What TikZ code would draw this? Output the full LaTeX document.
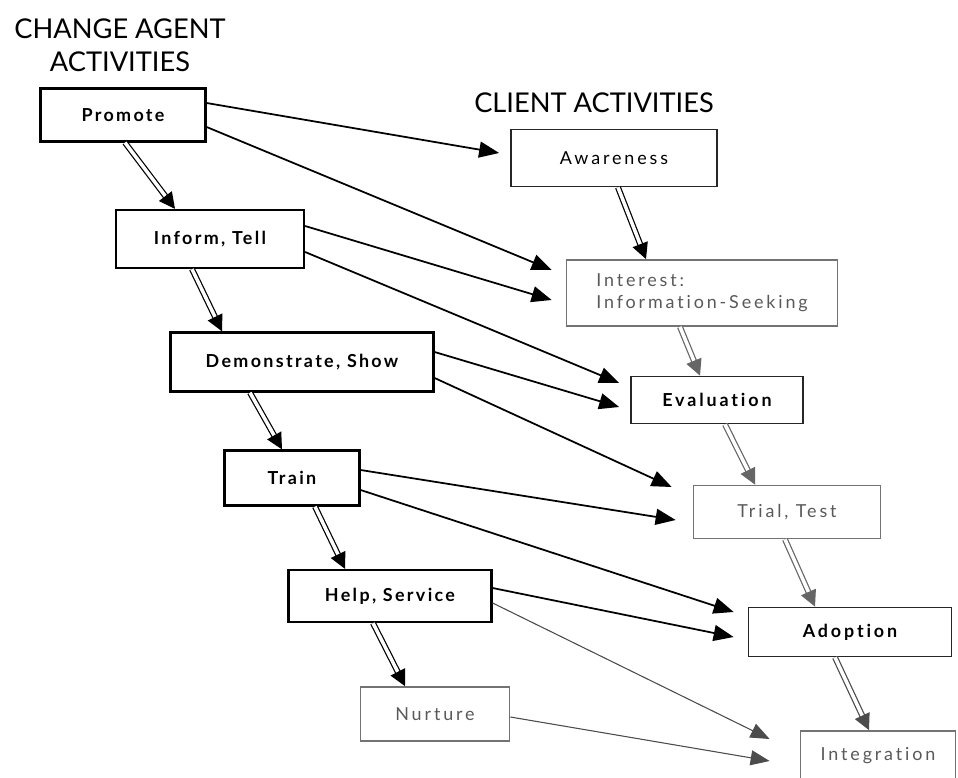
\documentclass[tikz,border=0pt]{standalone}
\usepackage{fontspec}
\setmainfont{Lato}
\newfontfamily\boxfont[LetterSpace=13, Ligatures=NoCommon]{Lato}
\newfontfamily\clientfont[LetterSpace=16, Ligatures=NoCommon]{Lato}
\usetikzlibrary{arrows.meta, positioning}
\tikzset{
    agent/.style = {rectangle, draw=black, line width=1.3pt, fill=white,
                    font=\boxfont\bfseries\fontsize{10.2}{12}\selectfont},
    client/.style = {rectangle, draw=black!85, line width=1pt, fill=white,
                     font=\clientfont\fontsize{10.2}{12.5}\selectfont},
    faint/.style = {draw=black!55, text=black!65},
    heading/.style = {font=\fontsize{15.5}{19}\selectfont, align=center},
    arrow/.style = {line width=1pt, -{Triangle[length=0.4cm,width=0.32cm]}},
    thinarrow/.style = {line width=0.6pt, draw=black!70, fill=black!70,
                        -{Triangle[length=0.38cm,width=0.3cm]}},
    dblarrow/.style = {double, double distance=2pt, line width=0.7pt,
                       -{Triangle[length=0.32cm,width=0.32cm]}},
}

\begin{document}
\begin{tikzpicture}[x=0.02cm, y=-0.02cm]
\useasboundingbox (0,0) rectangle (958,778);

\node (agenthead) [heading] at (120,45) {CHANGE AGENT\\ACTIVITIES};
\node (clienthead) [heading] at (594,103) {CLIENT ACTIVITIES};

% change agent side
\node (promote) [agent, minimum width=3.3cm, minimum height=1.06cm] at (123,115) {Promote};
\node (inform) [agent, minimum width=3.76cm, minimum height=1.16cm] at (210,239) {Inform, Tell};
\node (demo) [agent, minimum width=5.26cm, minimum height=1.18cm] at (302,362) {Demonstrate, Show};
\node (train) [agent, minimum width=2.7cm, minimum height=1.1cm] at (292,478) {Train};
\node (help) [agent, minimum width=4.06cm, minimum height=1.04cm] at (390,596) {Help, Service};
\node (nurture) [client, faint, minimum width=2.98cm, minimum height=1.08cm] at (435,714) {Nurture};

% client side
\node (aware) [client, minimum width=4.12cm, minimum height=1.14cm] at (614,158) {Awareness};
\node (interest) [client, faint, minimum width=5.42cm, minimum height=1.32cm,
                  align=left] at (702,293) {Interest:\\Information-Seeking};
\node (eval) [client, minimum width=3.44cm, minimum height=0.94cm] at (717,400) {\bfseries Evaluation};
\node (trial) [client, faint, minimum width=3.74cm, minimum height=1.06cm] at (787,512) {Trial, Test};
\node (adopt) [client, minimum width=4.06cm, minimum height=0.98cm] at (850,632) {\bfseries Adoption};
\node (integ) [client, faint, minimum width=3.1cm, minimum height=1.0cm] at (878,756) {Integration};

% Arrows
\draw[dblarrow] ([xshift=0.04cm]promote.south) -- ([xshift=-0.7cm]inform.north);
\draw[dblarrow] ([xshift=-0.36cm]inform.south) -- ([xshift=-1.6cm]demo.north);
\draw[dblarrow] ([xshift=-1.04cm]demo.south) -- ([xshift=-0.2cm]train.north);
\draw[dblarrow] ([xshift=0.46cm]train.south) -- ([xshift=-0.9cm]help.north);
\draw[dblarrow] ([xshift=-0.34cm]help.south) -- ([xshift=-0.6cm]nurture.north);
\draw[dblarrow] ([xshift=0.08cm]aware.south) -- ([xshift=-1.12cm]interest.north);
\draw[dblarrow, black!60] ([xshift=-0.44cm]interest.south) -- ([xshift=-0.34cm]eval.north);
\draw[dblarrow, black!60] ([xshift=0.16cm]eval.south) -- ([xshift=-0.64cm]trial.north);
\draw[dblarrow, black!60] ([xshift=-0.04cm]trial.south) -- ([xshift=-0.7cm]adopt.north);
\draw[dblarrow, black!70] ([xshift=-0.3cm]adopt.south) -- ([xshift=-0.18cm]integ.north);

\draw[arrow] ([yshift=0.24cm]promote.east) -- ([xshift=-0.22cm,yshift=0.1cm]aware.west);
\draw[arrow] ([yshift=-0.24cm]promote.east) -- ([xshift=-0.28cm,yshift=0.46cm]interest.west);
\draw[arrow] ([yshift=0.26cm]inform.east) -- ([xshift=-0.28cm,yshift=-0.14cm]interest.west);
\draw[arrow] ([yshift=-0.26cm]inform.east) -- ([xshift=-0.22cm,yshift=0.34cm]eval.west);
\draw[arrow] ([yshift=0.2cm]demo.east) -- ([xshift=-0.22cm,yshift=-0.14cm]eval.west);
\draw[arrow] ([yshift=-0.32cm]demo.east) -- ([xshift=-0.42cm,yshift=0.5cm]trial.west);
\draw[arrow] ([yshift=0.16cm]train.east) -- ([xshift=-0.34cm,yshift=-0.16cm]trial.west);
\draw[arrow] ([yshift=-0.24cm]train.east) -- ([xshift=-0.28cm,yshift=0.4cm]adopt.west);
\draw[arrow] ([yshift=0.16cm]help.east) -- ([xshift=-0.28cm,yshift=-0.1cm]adopt.west);
\draw[thinarrow] ([yshift=-0.14cm]help.east) -- ([xshift=-0.6cm,yshift=0.34cm]integ.west);
\draw[thinarrow] ([yshift=-0.06cm]nurture.east) -- ([xshift=-0.6cm,yshift=-0.1cm]integ.west);
\end{tikzpicture}
\end{document}
